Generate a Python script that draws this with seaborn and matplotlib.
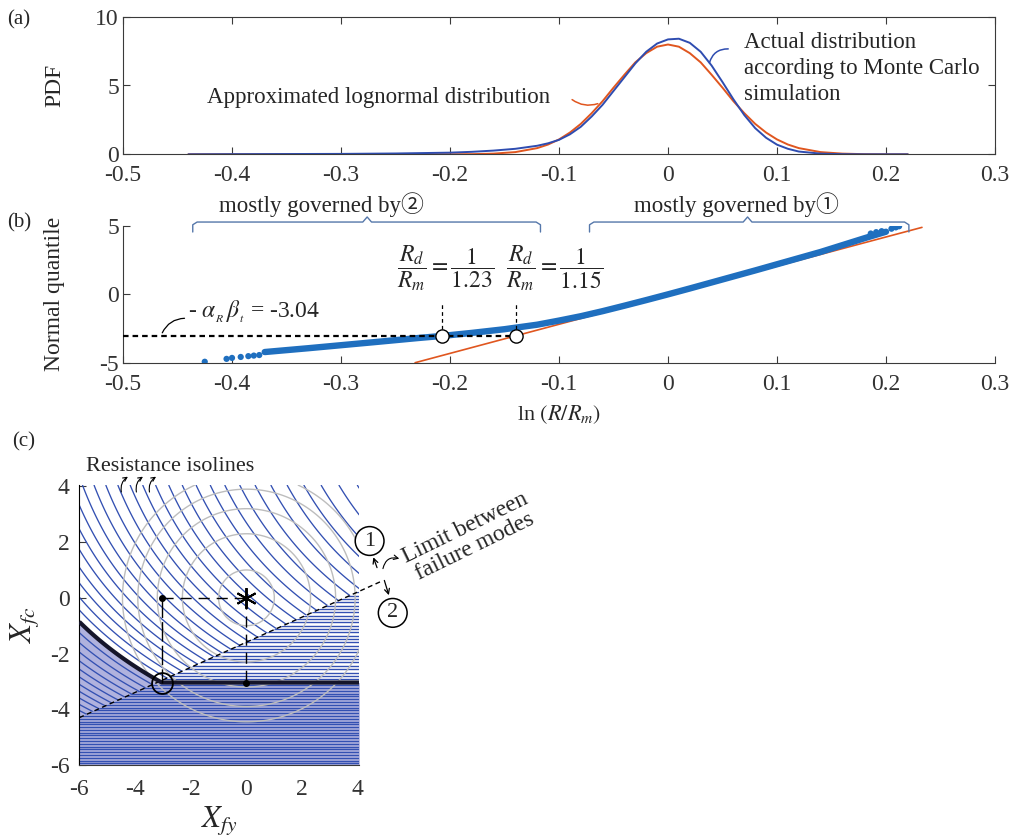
import numpy as np
import pandas as pd
import matplotlib
matplotlib.use("Agg")
import matplotlib.pyplot as plt
import seaborn as sns
from matplotlib.patches import Polygon

# ------------------------------------------------------------------ data
# (a) probability density functions of ln(R/Rm)
pdf_x = [-0.44, -0.40, -0.35, -0.30, -0.25, -0.20, -0.18, -0.16, -0.14, -0.12,
         -0.11, -0.10, -0.09, -0.08, -0.07, -0.06, -0.05, -0.04, -0.03, -0.02,
         -0.01, 0.00, 0.01, 0.02, 0.03, 0.04, 0.05, 0.06, 0.07, 0.08, 0.09,
         0.10, 0.11, 0.12, 0.14, 0.16, 0.18, 0.20, 0.22]
pdf_actual = [0.0, 0.01, 0.02, 0.03, 0.06, 0.12, 0.18, 0.27, 0.40, 0.62,
              0.80, 1.05, 1.45, 2.00, 2.75, 3.60, 4.60, 5.60, 6.60, 7.45,
              8.05, 8.35, 8.40, 8.10, 7.45, 6.45, 5.25, 4.00, 2.85, 1.90, 1.20,
              0.70, 0.40, 0.20, 0.05, 0.01, 0.0, 0.0, 0.0]
pdf_lognormal = [0.0, 0.0, 0.0, 0.0, 0.0, 0.0, 0.01, 0.05, 0.16, 0.45,
                 0.71, 1.08, 1.58, 2.21, 2.99, 3.86, 4.84, 5.78, 6.68, 7.35,
                 7.82, 7.98, 7.82, 7.35, 6.68, 5.78, 4.84, 3.86, 2.99, 2.21, 1.58,
                 1.08, 0.71, 0.45, 0.16, 0.05, 0.01, 0.0, 0.0]

# (b) normal quantile plot of Monte Carlo sample
q_x = [-0.37, -0.35, -0.33, -0.30, -0.27, -0.25, -0.23, -0.207, -0.18, -0.15,
       -0.12, -0.10, -0.08, -0.06, -0.04, -0.02, 0.00, 0.02, 0.04, 0.06, 0.08,
       0.10, 0.12, 0.14, 0.16, 0.18, 0.20]
q_y = [-4.22, -4.08, -3.94, -3.72, -3.50, -3.35, -3.20, -3.04, -2.82, -2.55,
       -2.22, -1.92, -1.60, -1.23, -0.83, -0.42, 0.00, 0.43, 0.87, 1.31, 1.75,
       2.20, 2.65, 3.10, 3.60, 4.10, 4.58]
tail_x = [-0.425, -0.405, -0.400, -0.392, -0.385, -0.380, -0.375,
          0.186, 0.191, 0.196, 0.205, 0.209, 0.212]
tail_y = [-4.93, -4.72, -4.65, -4.58, -4.52, -4.48, -4.44,
          4.45, 4.55, 4.62, 4.80, 4.90, 4.98]
fit_x = [-0.232, 0.233]
fit_y = [-5.0, 4.9]
target_q = -3.04
design_x = [np.log(1 / 1.23), np.log(1 / 1.15)]
design_y = [-3.04, -3.04]
xticklabels_ab = ['-0.5', '-0.4', '-0.3', '-0.2', '-0.1', '0', '0.1', '0.2', '0.3']

# (c) standard normal space of X_fy, X_fc
design_point = [-3.04, -3.04]
mean_point = [0.0, 0.0]
limit_x = [-6.0, 4.9]
limit_y = [-4.3, 0.62]
circle_radii = [1.0, 2.3, 3.2, 3.9, 4.45]
iso_step = 0.55
upper_hlines = np.arange(-2.92, 0.30, 0.12)
lower_hlines = np.arange(-3.14, -6.0, -0.10)

# ------------------------------------------------------------------ style
sns.set_theme(style="ticks")
plt.rcParams.update({
    "font.family": ["Liberation Serif", "Noto Sans CJK JP", "DejaVu Sans"],
    "mathtext.fontset": "stix",
    "axes.unicode_minus": False,
    "axes.edgecolor": "#3a3a3a",
    "axes.linewidth": 0.8,
    "xtick.color": "#3a3a3a",
    "ytick.color": "#3a3a3a",
    "xtick.labelcolor": "#333333",
    "ytick.labelcolor": "#333333",
    "xtick.direction": "in",
    "ytick.direction": "in",
    "xtick.major.size": 5,
    "ytick.major.size": 5,
    "xtick.major.width": 0.8,
    "ytick.major.width": 0.8,
    "axes.facecolor": "white",
    "figure.facecolor": "white",
})

BLUE_A = "#2E4CB0"
ORANGE = "#E0561F"
BLUE_B = "#1F6FBF"
BRACE = "#5577AA"
ISO = "#3350B2"
TICK_FS = 17

fig = plt.figure(figsize=(10.10, 8.36), dpi=100)
W, H = 1010.0, 836.0
ax_a = fig.add_axes([123 / W, 1 - 154.3 / H, 872 / W, 137.6 / H])
ax_b = fig.add_axes([123 / W, 1 - 362.7 / H, 872 / W, 136.7 / H])
ax_c = fig.add_axes([79.3 / W, 1 - 765 / H, 280 / W, 280 / H])

# ------------------------------------------------------------------ (a)
df_a = pd.DataFrame({"x": pdf_x, "actual": pdf_actual, "logn": pdf_lognormal})
sns.lineplot(data=df_a, x="x", y="logn", ax=ax_a, color=ORANGE, lw=1.4,
             estimator=None, sort=False)
sns.lineplot(data=df_a, x="x", y="actual", ax=ax_a, color=BLUE_A, lw=1.4,
             estimator=None, sort=False)
ax_a.set_xlim(-0.5, 0.3)
ax_a.set_ylim(0, 10)
ax_a.set_xticks(np.arange(-0.5, 0.31, 0.1))
ax_a.set_xticklabels(xticklabels_ab)
ax_a.set_yticks([0, 5, 10])
ax_a.tick_params(axis="both", labelsize=TICK_FS, top=True, right=True)
ax_a.tick_params(axis="x", pad=8)
ax_a.tick_params(axis="y", pad=3)
ax_a.set_xlabel("")
ax_a.set_ylabel("PDF", fontsize=17)
ax_a.yaxis.set_label_coords(-0.066, 0.5)
for s in ["top", "right"]:
    ax_a.spines[s].set_visible(True)

ax_a.text(-0.423, 4.16, "Approximated lognormal distribution", fontsize=16.5,
          ha="left", va="center")
ax_a.annotate("", xy=(-0.062, 3.75), xytext=(-0.090, 4.1),
              arrowprops=dict(arrowstyle="-", color=ORANGE, lw=1.1,
                              connectionstyle="arc3,rad=0.3"))
ax_a.text(0.0697, 6.24, "Actual distribution\naccording to Monte Carlo\nsimulation",
          fontsize=16.5, ha="left", va="center", linespacing=1.3)
ax_a.annotate("", xy=(0.0374, 6.45), xytext=(0.0578, 7.65),
              arrowprops=dict(arrowstyle="-", color=BLUE_A, lw=1.1,
                              connectionstyle="arc3,rad=0.45"))
fig.text(19 / W, 1 - 20 / H, "(a)", fontsize=15, ha="center", va="center")

# ------------------------------------------------------------------ (b)
sns.lineplot(x=fit_x, y=fit_y, ax=ax_b, color=ORANGE, lw=1.2, estimator=None,
             sort=False, zorder=2)
sns.lineplot(x=q_x, y=q_y, ax=ax_b, color=BLUE_B, lw=4.6, estimator=None,
             sort=False, zorder=3, solid_capstyle="round")
sns.scatterplot(x=tail_x, y=tail_y, ax=ax_b, color=BLUE_B, s=20,
                edgecolor="none", zorder=3)
ax_b.set_xlim(-0.5, 0.3)
ax_b.set_ylim(-5, 5)
ax_b.set_xticks(np.arange(-0.5, 0.31, 0.1))
ax_b.set_xticklabels(xticklabels_ab)
ax_b.set_yticks([-5, 0, 5])
ax_b.tick_params(axis="both", labelsize=TICK_FS)
ax_b.tick_params(axis="x", pad=8)
ax_b.tick_params(axis="y", pad=3)
sns.despine(ax=ax_b)
ax_b.set_ylabel("Normal quantile", fontsize=17)
ax_b.yaxis.set_label_coords(-0.066, 0.5)
ax_b.set_xlabel(r"ln $(R/R_m)$", fontsize=16, labelpad=6)

# target reliability line and design points
ax_b.plot([-0.5, design_x[1]], [target_q, target_q], color="black", lw=1.6,
          ls=(0, (2.5, 1.8)), zorder=4)
for dx in design_x:
    ax_b.plot([dx, dx], [target_q, -0.55], color="black", lw=0.9,
              ls=(0, (3, 2.5)), zorder=4)
ax_b.plot(design_x, design_y, ls="none", marker="o", ms=9.5, mfc="white",
          mec="black", mew=1.0, zorder=6)
ax_b.text(-0.204, 1.95, r"$\dfrac{R_d}{R_m}=\dfrac{1}{1.23}$", fontsize=17,
          ha="center", va="center")
ax_b.text(-0.104, 1.95, r"$\dfrac{R_d}{R_m}=\dfrac{1}{1.15}$", fontsize=17,
          ha="center", va="center")
ax_b.text(-0.440, -1.30, r"- $\alpha_{_R}\,\beta_{_t}$ = -3.04", fontsize=17,
          ha="left", va="center")
ax_b.annotate("", xy=(-0.441, -1.75), xytext=(-0.465, -3.0),
              arrowprops=dict(arrowstyle="-", color="black", lw=0.9,
                              connectionstyle="arc3,rad=-0.35"))


def brace(ax, x0, x1, xm, y_end, y_bar, y_tip, color):
    d = 0.004
    xs = [x0, x0, x0 + d, xm - d, xm, xm + d, x1 - d, x1, x1]
    ys = [y_end, y_bar - 0.2, y_bar, y_bar, y_tip, y_bar, y_bar, y_bar - 0.2, y_end]
    ax.plot(xs, ys, color=color, lw=1.0, clip_on=False, zorder=5)


brace(ax_b, -0.436, -0.117, -0.276, 4.56, 5.29, 5.66, BRACE)
brace(ax_b, -0.072, 0.221, 0.073, 4.56, 5.29, 5.66, BRACE)
ax_b.text(-0.318, 6.55, "mostly governed by\u2461", fontsize=16.5,
          ha="center", va="center")
ax_b.text(0.063, 6.55, "mostly governed by\u2460", fontsize=16.5,
          ha="center", va="center")
fig.text(19 / W, 1 - 223 / H, "(b)", fontsize=15, ha="center", va="center")

# ------------------------------------------------------------------ (c)
xg = np.linspace(-6.0, 4.05, 700)
yg = np.linspace(-6.0, 4.05, 700)
XX, YY = np.meshgrid(xg, yg)
A_X, B_Y, K_Y = 0.05, 0.2, 1.144


def r1(x, y):
    return -np.exp(-A_X * x) / A_X - (K_Y / B_Y) * np.exp(-B_Y * y)


R1 = r1(XX, YY)
Rd = r1(design_point[0], design_point[1])
iso_levels = Rd + iso_step * np.arange(-60, 60)

slope = (limit_y[1] - limit_y[0]) / (limit_x[1] - limit_x[0])


def yb(x):
    return limit_y[0] + slope * (x - limit_x[0])


# failure region fill
xf_curve = np.linspace(-6.0, design_point[0], 120)
yf_curve = -np.log((-Rd - np.exp(-A_X * xf_curve) / A_X) / (K_Y / B_Y)) / B_Y
xf = np.concatenate([xf_curve, [4.05]])
yf = np.concatenate([yf_curve, [design_point[1]]])
ax_c.fill_between(xf, yf, -6.0, color="#B0B2DE", lw=0, zorder=1)

poly_up = Polygon([(-6.0, yb(-6.0)), (4.05, yb(4.05)), (4.05, 4.05), (-6.0, 4.05)],
                  closed=True, transform=ax_c.transData)
poly_dn = Polygon([(-6.0, yb(-6.0)), (4.05, yb(4.05)), (4.05, -6.0), (-6.0, -6.0)],
                  closed=True, transform=ax_c.transData)

cs = ax_c.contour(XX, YY, R1, levels=np.sort(iso_levels), colors=ISO,
                  linewidths=0.95, linestyles="solid",
                  negative_linestyles="solid", zorder=2)
cs.set_clip_path(poly_up)
hl = ax_c.hlines(np.concatenate([upper_hlines, lower_hlines]), -6.0, 4.05,
                 colors=ISO, lw=1.0, zorder=2)
hl.set_clip_path(poly_dn)

# grey probability circles
RR = np.sqrt((XX - mean_point[0]) ** 2 + (YY - mean_point[1]) ** 2)
ax_c.contour(XX, YY, RR, levels=circle_radii, colors="#BDBDBD", linewidths=1.0,
             linestyles="solid", zorder=3)

# limit between failure modes
ax_c.plot(limit_x, limit_y, color="black", lw=1.0, ls=(0, (3.5, 2.5)),
          clip_on=False, zorder=4)
# bold limit-state line
ax_c.plot(xf, yf, color="#15152A", lw=3.0, zorder=5, solid_capstyle="butt")

# design point construction
ax_c.plot([design_point[0], mean_point[0]], [mean_point[1], mean_point[1]],
          color="black", lw=1.0, ls=(0, (8, 5)), zorder=5)
ax_c.plot([design_point[0], design_point[0]], [mean_point[1], design_point[1]],
          color="black", lw=1.0, ls=(0, (14, 3)), zorder=5)
ax_c.plot([mean_point[0], mean_point[0]], [mean_point[1], design_point[1]],
          color="black", lw=1.0, ls=(0, (8, 5)), zorder=5)
ax_c.plot([design_point[0], mean_point[0]], [mean_point[1], design_point[1]],
          ls="none", marker="o", ms=4, color="black", zorder=6)
ax_c.plot([mean_point[0]], [mean_point[1]], ls="none", marker=(6, 2, 0), ms=15,
          mec="black", mew=1.4, zorder=7)
ax_c.plot([design_point[0]], [design_point[1]], ls="none", marker="o", ms=15,
          mfc="none", mec="black", mew=1.3, zorder=7)

ax_c.set_xlim(-6.0, 4.05)
ax_c.set_ylim(-6.0, 4.05)
ax_c.set_xticks([-6, -4, -2, 0, 2, 4])
ax_c.set_yticks([-6, -4, -2, 0, 2, 4])
ax_c.tick_params(axis="both", labelsize=TICK_FS)
ax_c.tick_params(axis="x", pad=10)
ax_c.tick_params(axis="y", pad=7)
sns.despine(ax=ax_c)
ax_c.spines["left"].set_color("black")
ax_c.set_xlabel(r"$X_{fy}$", fontsize=22)
ax_c.xaxis.set_label_coords(0.5, -0.14)
ax_c.set_ylabel(r"$X_{fc}$", fontsize=22)
ax_c.yaxis.set_label_coords(-0.135, 0.5)

ax_c.text(-5.75, 4.72, "Resistance isolines", fontsize=16, ha="left",
          va="center", clip_on=False)
for hx in [-4.47, -3.93, -3.46]:
    ax_c.annotate("", xy=(hx + 0.3, 4.4), xytext=(hx, 3.7),
                  arrowprops=dict(arrowstyle="->", color="black", lw=0.8,
                                  mutation_scale=7,
                                  connectionstyle="arc3,rad=-0.4"),
                  annotation_clip=False)

ax_c.text(4.42, 2.04, "1", fontsize=16, ha="center", va="center", clip_on=False,
          bbox=dict(boxstyle="circle,pad=0.22", fc="white", ec="black", lw=1.1))
ax_c.text(5.25, -0.54, "2", fontsize=16, ha="center", va="center", clip_on=False,
          bbox=dict(boxstyle="circle,pad=0.22", fc="white", ec="black", lw=1.1))
ax_c.annotate("", xy=(4.52, 1.55), xytext=(4.72, 0.99),
              arrowprops=dict(arrowstyle="->", color="black", lw=0.9,
                              mutation_scale=9), annotation_clip=False)
ax_c.annotate("", xy=(5.14, 0.0), xytext=(4.92, 0.72),
              arrowprops=dict(arrowstyle="->", color="black", lw=0.9,
                              mutation_scale=9), annotation_clip=False)
ax_c.annotate("", xy=(5.58, 1.38), xytext=(4.88, 0.95),
              arrowprops=dict(arrowstyle="->", color="black", lw=0.8,
                              mutation_scale=8,
                              connectionstyle="arc3,rad=-0.6"),
              annotation_clip=False)
fig.text(470 / W, 1 - 537 / H, "Limit between\nfailure modes", fontsize=17,
         ha="center", va="center", rotation=26, rotation_mode="anchor",
         multialignment="center", linespacing=1.0)
fig.text(24 / W, 1 - 442 / H, "(c)", fontsize=15, ha="center", va="center")

fig.savefig("out.png", dpi=100)
